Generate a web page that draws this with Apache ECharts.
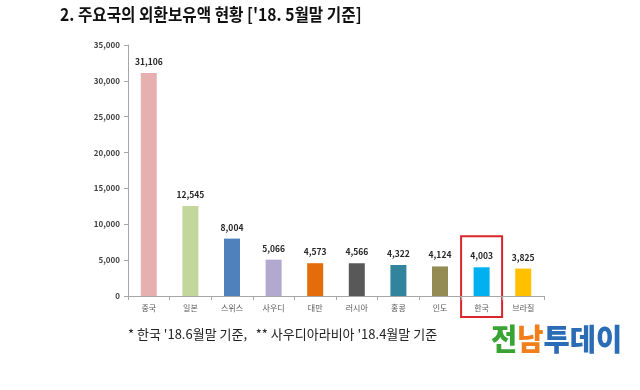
<!DOCTYPE html>
<html><head><meta charset="utf-8">
<script src="https://cdn.jsdelivr.net/npm/echarts@6/dist/echarts.min.js"></script>
<style>html,body{margin:0;padding:0;background:#fff}#c{width:640px;height:390px}</style>
</head><body><div id="c"></div>
<script>
const categories = ['중국','일본','스위스','사우디','대만','러시아','홍콩','인도','한국','브라질'];
const values = [31106,12545,8004,5066,4573,4566,4322,4124,4003,3825];
const barColors = ['#e6b0b0','#c3d69b','#4f81bd','#b3a8cf','#e46c0a','#585858','#31849b','#948a54','#00b0f0','#ffc000'];
const highlight = '한국';
const titleText = "2. 주요국의 외환보유액 현황 ['18. 5월말 기준]";
const noteText = "* 한국 '18.6월말 기준,   ** 사우디아라비아 '18.4월말 기준";

const chart = echarts.init(document.getElementById('c'));
const font = '"Noto Sans CJK KR", "Noto Sans", sans-serif';
chart.setOption({
  animation:false,
  textStyle:{fontFamily:font},
  grid:{left:128,right:96,top:45,bottom:94},
  xAxis:{type:'category',data:categories,
    axisLine:{lineStyle:{color:'#a6a6a6'}},
    axisTick:{show:true,lineStyle:{color:'#a6a6a6'},length:4},
    axisLabel:{color:'#595959',fontSize:8,margin:8}},
  yAxis:{type:'value',min:0,max:35000,interval:5000,
    axisLine:{show:true,lineStyle:{color:'#a6a6a6'}},
    axisTick:{show:true,inside:false,length:4,lineStyle:{color:'#a6a6a6'}},
    splitLine:{show:false},
    axisLabel:{color:'#404040',fontSize:8,fontWeight:'bold',margin:8,
      formatter:v=>v.toLocaleString('en-US')}},
  series:[{type:'bar',barWidth:16,
    data:values.map((v,i)=>({value:v,itemStyle:{color:barColors[i]}})),
    label:{show:true,position:'top',distance:7,fontSize:8.5,fontWeight:'bold',color:'#262626',
      formatter:p=>p.value.toLocaleString('en-US')}}]
});
const idx = categories.indexOf(highlight);
const cx = chart.convertToPixel({xAxisIndex:0},categories[idx]);
const ytop = chart.convertToPixel({yAxisIndex:0},values[idx]);
chart.setOption({graphic:[
  {type:'text',x:60,y:6,scaleX:0.895,style:{text:titleText,fontSize:17.5,fontWeight:'bold',fill:'#111',fontFamily:font}},
  {type:'text',left:128,top:328,style:{text:noteText,fontSize:13,fill:'#222',fontFamily:font}},
  {type:'text',x:491,y:324,scaleX:0.95,style:{rich:{
     a:{fontSize:30,fontWeight:900,fill:'#3aa335',fontFamily:font},
     b:{fontSize:30,fontWeight:900,fill:'#f07f1b',fontFamily:font},
     c:{fontSize:30,fontWeight:900,fill:'#2a6cb5',fontFamily:font}},
     text:'{a|전}{b|남}{c|투데이}'}},
  {type:'rect',shape:{x:cx-20.5,y:ytop-31,width:41,height:317-(ytop-31)},
   style:{fill:'none',stroke:'#d9262c',lineWidth:2}}
]});
</script></body></html>
